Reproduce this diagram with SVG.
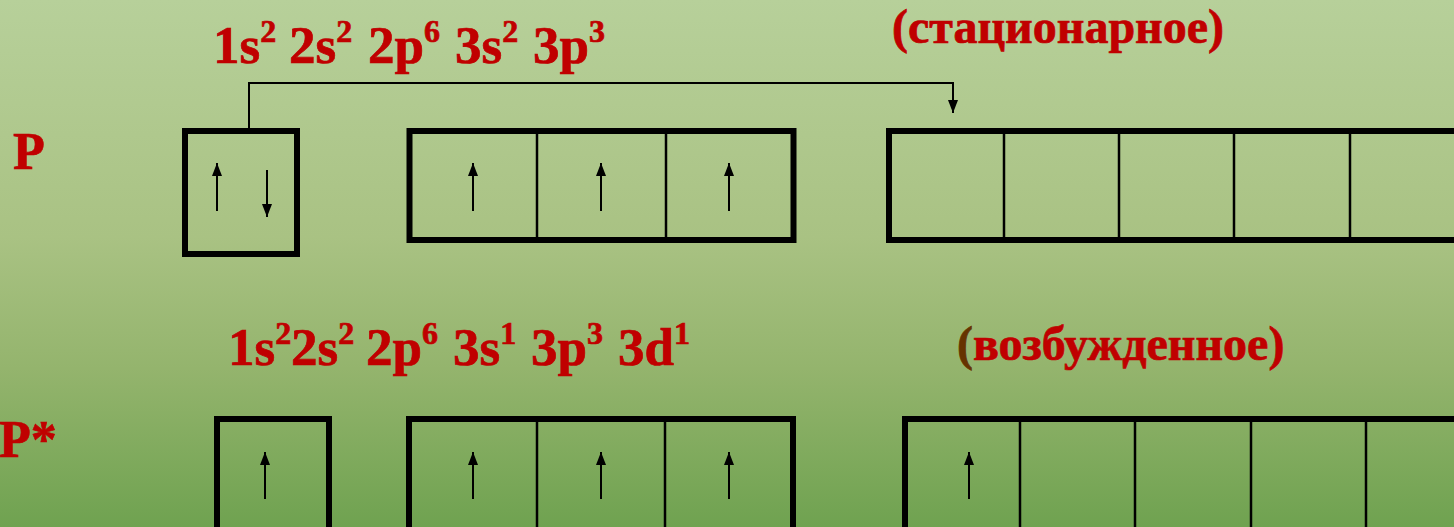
<svg xmlns="http://www.w3.org/2000/svg" width="1454" height="527" viewBox="0 0 1454 527">
<defs>
<linearGradient id="bg" x1="0" y1="0" x2="0" y2="1">
<stop offset="0" stop-color="#b7d09a"/>
<stop offset="0.45" stop-color="#a9c283"/>
<stop offset="0.7" stop-color="#94b46d"/>
<stop offset="1" stop-color="#6fa250"/>
</linearGradient>
<marker id="ah" markerUnits="userSpaceOnUse" markerWidth="14" markerHeight="11" refX="13" refY="5" orient="auto">
<path d="M0,0 L13,5 L0,10 z" fill="#000"/>
</marker>
</defs>
<style>
.t{font-family:"Liberation Serif","Times New Roman",serif;font-weight:700;fill:#c00000;stroke:#c00000;stroke-width:0.7}
.f{font-size:53px}
.s{font-size:32px}
.box{fill:none;stroke:#000;stroke-width:6}
.div{stroke:#000;stroke-width:2.5}
.sp{stroke:#000;stroke-width:2;fill:none;marker-end:url(#ah)}
</style>
<rect x="0" y="0" width="1454" height="527" fill="url(#bg)"/>

<g id="labels">
<text class="t" x="13" y="169" font-size="52">P</text>
<text class="t" x="-1" y="457" font-size="52">P*</text>
</g>

<g id="config-ground">
<text class="t f" y="63"><tspan x="213">1s</tspan><tspan class="s" dy="-21">2</tspan><tspan x="289" dy="21">2s</tspan><tspan class="s" dy="-21">2</tspan><tspan x="368" dy="21">2p</tspan><tspan class="s" dy="-21">6</tspan><tspan x="455" dy="21">3s</tspan><tspan class="s" dy="-21">2</tspan><tspan x="533" dy="21">3p</tspan><tspan class="s" dy="-21">3</tspan></text>
</g>
<g id="state-ground">
<text class="t" x="892" y="43" font-size="48">(стационарное)</text>
</g>

<g id="config-excited">
<text class="t f" y="365"><tspan x="228">1s</tspan><tspan class="s" dy="-21">2</tspan><tspan x="291" dy="21">2s</tspan><tspan class="s" dy="-21">2</tspan><tspan x="366" dy="21">2p</tspan><tspan class="s" dy="-21">6</tspan><tspan x="453" dy="21">3s</tspan><tspan class="s" dy="-21">1</tspan><tspan x="531" dy="21">3p</tspan><tspan class="s" dy="-21">3</tspan><tspan x="618" dy="21">3d</tspan><tspan class="s" dy="-21">1</tspan></text>
</g>
<g id="state-excited">
<text class="t" x="957" y="360" font-size="48"><tspan fill="#663300" stroke="#663300">(</tspan>возбужденное)</text>
</g>

<g id="P-3s">
<rect class="box" x="185" y="131" width="112" height="123"/>
<line class="sp" x1="217" y1="211" x2="217" y2="163"/>
<line class="sp" x1="267" y1="170" x2="267" y2="217"/>
</g>
<g id="P-3p">
<rect class="box" x="409.5" y="131" width="384" height="109"/>
<line class="div" x1="537" y1="130" x2="537" y2="242"/>
<line class="div" x1="666" y1="130" x2="666" y2="242"/>
<line class="sp" x1="473" y1="211" x2="473" y2="163"/>
<line class="sp" x1="601" y1="211" x2="601" y2="163"/>
<line class="sp" x1="729" y1="211" x2="729" y2="163"/>
</g>
<g id="P-3d">
<rect class="box" x="889" y="131" width="620" height="109"/>
<line class="div" x1="1004" y1="130" x2="1004" y2="242"/>
<line class="div" x1="1119" y1="130" x2="1119" y2="242"/>
<line class="div" x1="1234" y1="130" x2="1234" y2="242"/>
<line class="div" x1="1350" y1="130" x2="1350" y2="242"/>
</g>

<g id="Pstar-3s">
<rect class="box" x="217" y="419" width="112" height="130"/>
<line class="sp" x1="265" y1="499" x2="265" y2="452"/>
</g>
<g id="Pstar-3p">
<rect class="box" x="409" y="419" width="384" height="130"/>
<line class="div" x1="537" y1="418" x2="537" y2="530"/>
<line class="div" x1="665" y1="418" x2="665" y2="530"/>
<line class="sp" x1="473" y1="499" x2="473" y2="452"/>
<line class="sp" x1="601" y1="499" x2="601" y2="452"/>
<line class="sp" x1="729" y1="499" x2="729" y2="452"/>
</g>
<g id="Pstar-3d">
<rect class="box" x="905" y="419" width="620" height="130"/>
<line class="div" x1="1020" y1="418" x2="1020" y2="530"/>
<line class="div" x1="1135" y1="418" x2="1135" y2="530"/>
<line class="div" x1="1251" y1="418" x2="1251" y2="530"/>
<line class="div" x1="1366" y1="418" x2="1366" y2="530"/>
<line class="sp" x1="969" y1="499" x2="969" y2="452"/>
</g>

<g id="connectors">
<path class="sp" d="M249,128 V83 H953 V113"/>
</g>
</svg>
